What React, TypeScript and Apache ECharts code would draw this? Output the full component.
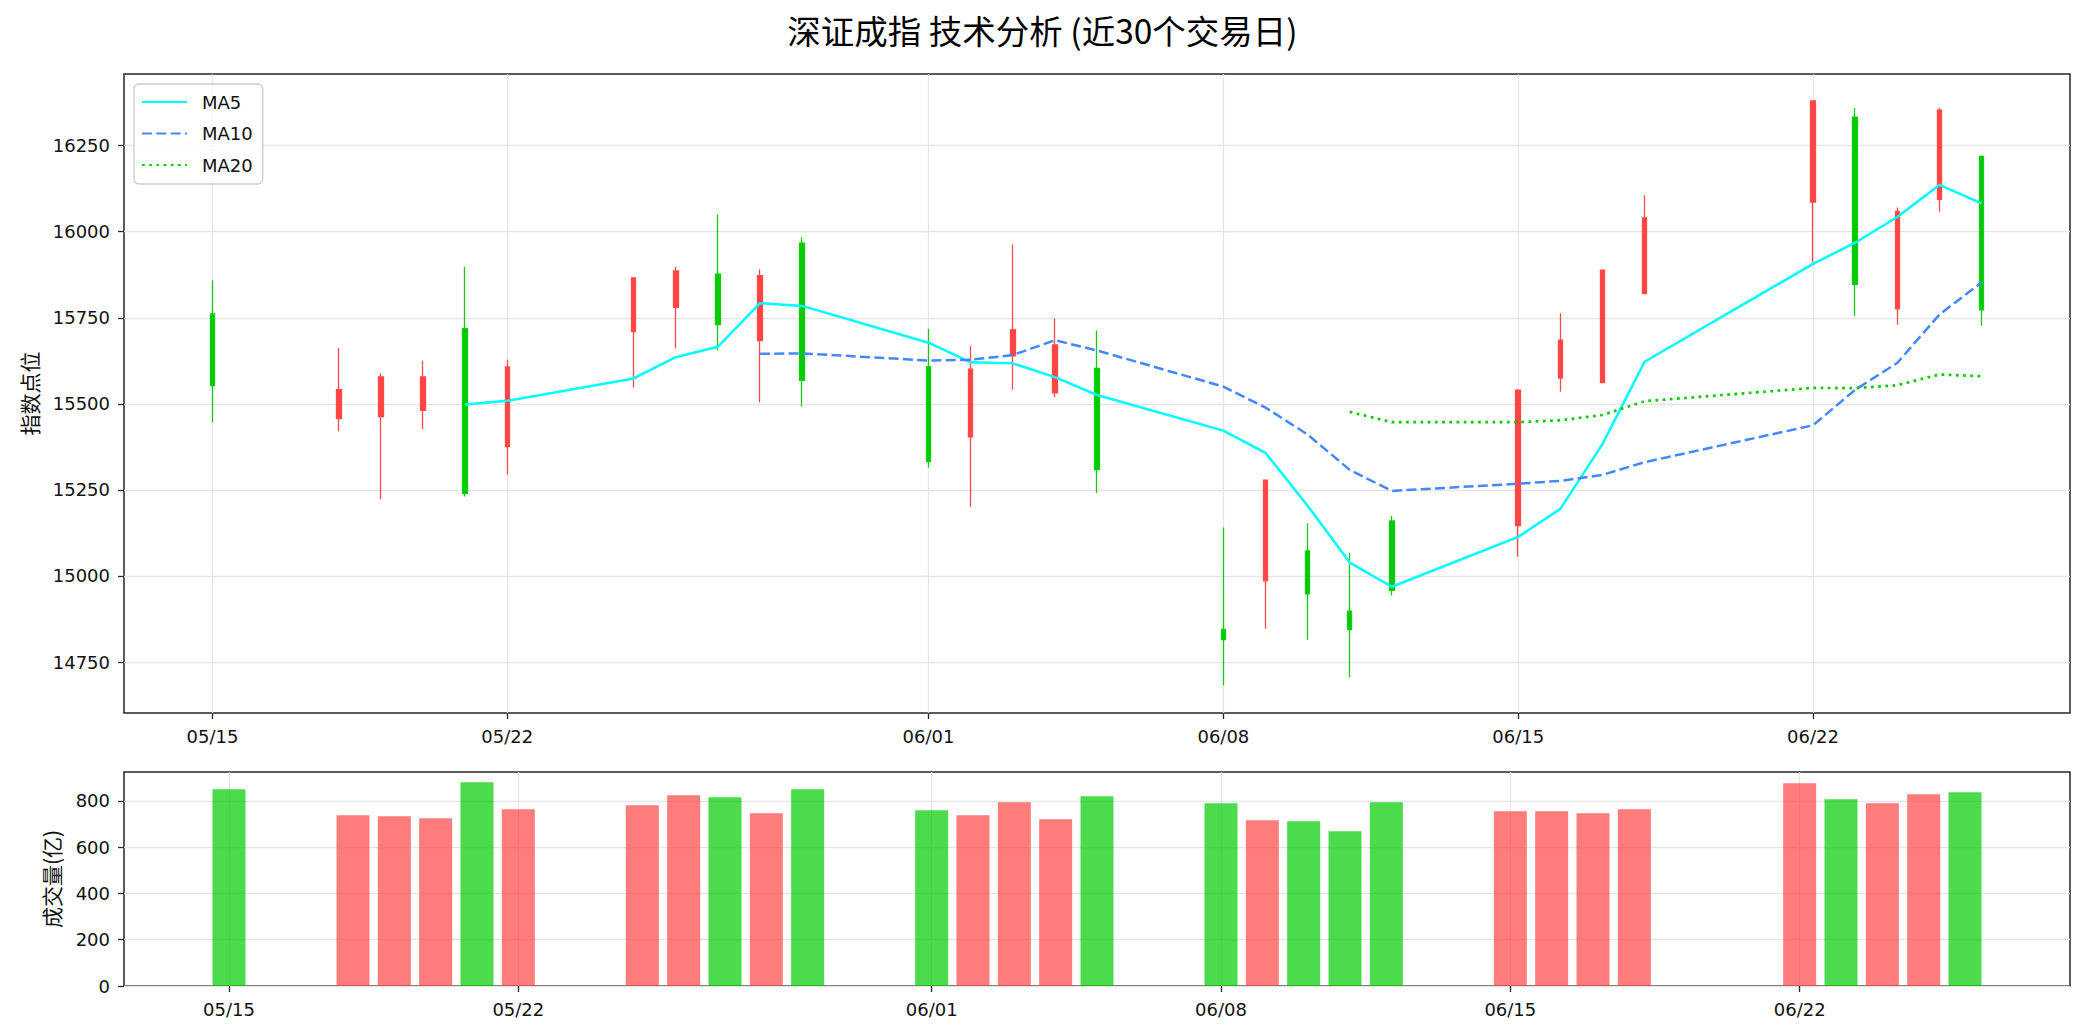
import React, { useEffect, useRef } from 'react';
import * as echarts from 'echarts';

const dates = ['05/15','05/18','05/19','05/20','05/21','05/22','05/25','05/26','05/27','05/28','05/29','06/01','06/02','06/03','06/04','06/05','06/08','06/09','06/10','06/11','06/12','06/15','06/16','06/17','06/18','06/22','06/23','06/24','06/25','06/26'];
const opens = [15761,15457,15463,15481,15718,15376,15710,15780,15877,15684,15967,15608,15404,15639,15532,15603,14845,14986,15073,14898,15160,15146,15575,15562,15820,16086,16333,15776,16094,16219];
const closes = [15553,15541,15578,15578,15240,15607,15866,15886,15730,15872,15568,15332,15601,15715,15671,15309,14815,15278,14948,14844,14958,15540,15685,15888,16040,16380,15847,16059,16353,15773];
const highs = [15859,15662,15589,15625,15898,15628,15868,15898,16051,15891,15984,15718,15668,15963,15748,15713,15141,15280,15153,15067,15174,15542,15763,15890,16106,16381,16359,16070,16360,16221];
const lows = [15446,15420,15223,15426,15231,15294,15547,15661,15655,15504,15492,15315,15201,15541,15519,15241,14682,14847,14815,14706,14943,15056,15535,15560,15818,15911,15755,15730,16058,15727];
const volumes = [850,738,734,725,881,764,781,824,816,747,850,760,738,794,721,820,790,716,712,669,794,755,755,747,764,876,807,790,829,837];

const xTickLabels = ['05/15','05/22','06/01','06/08','06/15','06/22'];
const priceTicks = [14750,15000,15250,15500,15750,16000,16250];
const volTicks = [0,200,400,600,800];
const priceRange = [14602, 16458];
const volMax = 925;
const maPeriods = [5, 10, 20];

const YEAR = 2020;
const DAY = 86400000;
const BASE = Date.UTC(YEAR, 4, 15);
const dayOf = (s: string) => {
  const [m, d] = s.split('/').map(Number);
  return Math.round((Date.UTC(YEAR, m - 1, d) - BASE) / DAY);
};
const pad = (n: number) => (n < 10 ? '0' + n : '' + n);
const fmtDay = (v: number) => {
  const t = new Date(BASE + Math.round(v) * DAY);
  return pad(t.getUTCMonth() + 1) + '/' + pad(t.getUTCDate());
};

const FONT = "'DejaVu Sans', 'Noto Sans CJK SC', sans-serif";
const CJK = "'Noto Sans CJK SC', sans-serif";
const TXT = '#111111';
const AXC = '#262626';
const GRIDC = '#e6e6e6';

export default function App() {
  const ref = useRef<HTMLDivElement>(null);
  useEffect(() => {
    if (!ref.current) return;
    const chart = echarts.init(ref.current, undefined, { renderer: 'svg' });
    const xs = dates.map(dayOf);
    const first = xs[0];
    const last = xs[xs.length - 1];
    const span = last - first;
    const m0 = 0.05 * span;
    const barDays = 0.8;
    const m1 = 0.05 * (span + barDays) + barDays / 2;
    const xTickVals = xTickLabels.map(dayOf);

    const candleData = xs.map((x, i) => [x, opens[i], closes[i], lows[i], highs[i]]);
    const volData = xs.map((x, i) => ({
      value: [x, volumes[i]],
      itemStyle: { color: closes[i] >= opens[i] ? 'rgba(255,68,68,0.7)' : 'rgba(0,204,0,0.7)' },
    }));
    const ma = (n: number) => {
      const out: number[][] = [];
      for (let i = n - 1; i < closes.length; i++) {
        let s = 0;
        for (let j = i - n + 1; j <= i; j++) s += closes[j];
        out.push([xs[i], s / n]);
      }
      return out;
    };

    const xAxisCommon = (gi: number, min: number, max: number) => ({
      type: 'value',
      gridIndex: gi,
      min,
      max,
      axisLine: { show: false, onZero: false },
      axisTick: { show: true, length: 6, lineStyle: { color: AXC, width: 1.3 }, customValues: xTickVals },
      axisLabel: { customValues: xTickVals, formatter: (v: number) => fmtDay(v), fontSize: 18, color: TXT, margin: 14, fontFamily: FONT },
      splitLine: { show: true, lineStyle: { color: GRIDC, width: 1.3 } },
    });

    const yAxisCommon = (gi: number, min: number, max: number, ticks: number[], name: string, gap: number) => ({
      type: 'value',
      gridIndex: gi,
      min,
      max,
      name,
      nameLocation: 'middle',
      nameGap: gap,
      nameTextStyle: { fontFamily: CJK, fontSize: 21, color: TXT },
      axisLine: { show: false, onZero: false },
      axisTick: { show: true, length: 6, lineStyle: { color: AXC, width: 1.3 }, customValues: ticks },
      axisLabel: { customValues: ticks, formatter: (v: number) => String(v), fontSize: 18, color: TXT, margin: 14, fontFamily: FONT },
      splitLine: { show: true, lineStyle: { color: GRIDC, width: 1.3 } },
    });

    const option: any = {
      animation: false,
      backgroundColor: '#ffffff',
      textStyle: { fontFamily: FONT },
      title: {
        text: '深证成指 技术分析 (近30个交易日)',
        left: 'center',
        top: 13,
        padding: 0,
        textStyle: { fontFamily: CJK, fontSize: 33.5, fontWeight: 'normal', color: '#000' },
      },
      legend: {
        data: maPeriods.map((n) => 'MA' + n),
        orient: 'vertical',
        left: 134,
        top: 84,
        padding: [9, 10, 10, 7],
        itemWidth: 45,
        itemHeight: 18,
        itemGap: 13.5,
        backgroundColor: 'rgba(255,255,255,0.8)',
        borderColor: '#cccccc',
        borderWidth: 1.3,
        borderRadius: 5,
        selectedMode: false,
        itemStyle: { opacity: 0, borderWidth: 0 },
        textStyle: { fontSize: 18, color: TXT, fontFamily: FONT, padding: [0, 0, 0, 10], lineHeight: 18 },
      },
      grid: [
        { left: 124, top: 74, width: 1946, height: 639, show: true, borderColor: AXC, borderWidth: 1.5, backgroundColor: 'transparent' },
        { left: 124, top: 772, width: 1946, height: 214, show: true, borderColor: AXC, borderWidth: 1.5, backgroundColor: 'transparent' },
      ],
      xAxis: [xAxisCommon(0, first - m0, last + m0), xAxisCommon(1, first - m1, last + m1)],
      yAxis: [
        yAxisCommon(0, priceRange[0], priceRange[1], priceTicks, '指数点位', 85),
        yAxisCommon(1, 0, volMax, volTicks, '成交量(亿)', 63),
      ],
      series: [
        {
          type: 'candlestick',
          name: 'K线',
          xAxisIndex: 0,
          yAxisIndex: 0,
          data: candleData,
          encode: { x: 0, y: [1, 2, 3, 4] },
          barWidth: 5,
          itemStyle: { color: '#ff4444', color0: '#00cc00', borderColor: '#ff4a4a', borderColor0: '#11cc11', borderWidth: 1.3 },
          z: 2,
        },
        {
          type: 'line',
          name: 'MA5',
          xAxisIndex: 0,
          yAxisIndex: 0,
          data: ma(5),
          symbol: 'none',
          lineStyle: { color: '#00ffff', width: 2.5 },
          itemStyle: { color: '#00ffff' },
          z: 3,
        },
        {
          type: 'line',
          name: 'MA10',
          xAxisIndex: 0,
          yAxisIndex: 0,
          data: ma(10),
          symbol: 'none',
          lineStyle: { color: '#4488ff', width: 2.5, type: [10, 4.3] },
          itemStyle: { color: '#4488ff' },
          z: 3,
        },
        {
          type: 'line',
          name: 'MA20',
          xAxisIndex: 0,
          yAxisIndex: 0,
          data: ma(20),
          symbol: 'none',
          lineStyle: { color: '#00cc00', width: 2.7, type: [2.7, 4.5] },
          itemStyle: { color: '#00cc00' },
          z: 3,
        },
        {
          type: 'bar',
          name: '成交量',
          xAxisIndex: 1,
          yAxisIndex: 1,
          data: volData,
          barWidth: 33,
        },
      ],
    };
    chart.setOption(option);
    return () => chart.dispose();
  }, []);
  return <div ref={ref} style={{ position: 'fixed', left: 0, top: 0, width: 2085, height: 1036, background: '#fff' }} />;
}
